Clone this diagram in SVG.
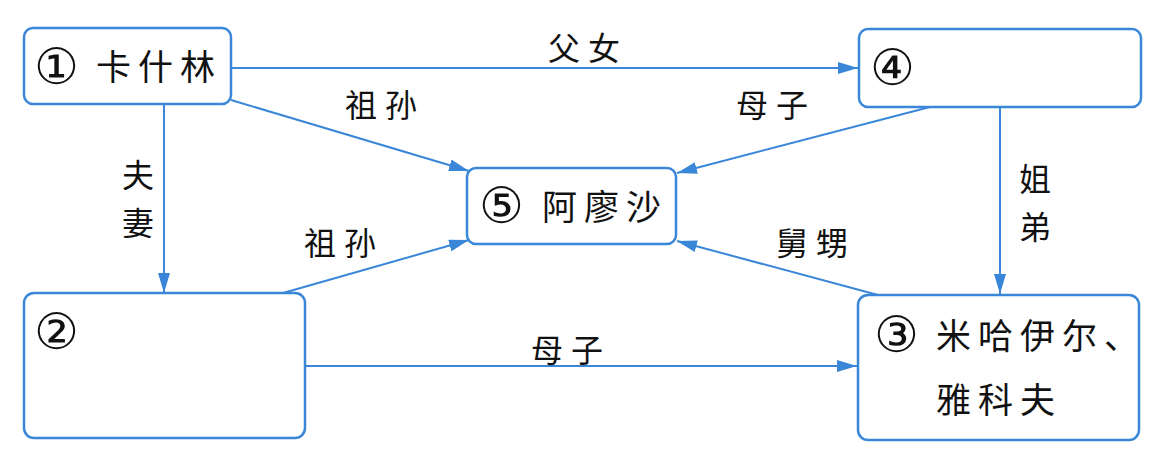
<svg xmlns="http://www.w3.org/2000/svg" width="1173" height="461" viewBox="0 0 1173 461">
<style>
.box{fill:#fff;stroke:#3a86d8;stroke-width:2.5}
.ln{stroke:#3a86d8;stroke-width:2;fill:none}
.t{font-family:"Noto Sans CJK SC",sans-serif;font-size:35px;fill:#111}
.n{font-family:"DejaVu Serif","DejaVu Sans","Noto Sans CJK SC",serif;font-size:50px;fill:#111}
.l{font-family:"Noto Sans CJK SC",sans-serif;font-size:32px;fill:#111;letter-spacing:8px}
</style>
<defs>
<marker id="b" viewBox="0 0 20 12" refX="20" refY="6" markerWidth="20" markerHeight="12" markerUnits="userSpaceOnUse" orient="auto">
<path d="M0,0 L20,6 L0,12 Z" fill="#3a86d8"/>
</marker>
</defs>
<g id="connectors">
<line class="ln" x1="231" y1="68" x2="858" y2="68" marker-end="url(#b)"/>
<line class="ln" x1="231" y1="100" x2="469" y2="171" marker-end="url(#b)"/>
<line class="ln" x1="164" y1="104" x2="164" y2="293" marker-end="url(#b)"/>
<line class="ln" x1="930" y1="107" x2="677" y2="173" marker-end="url(#b)"/>
<line class="ln" x1="1000" y1="107" x2="1000" y2="294" marker-end="url(#b)"/>
<line class="ln" x1="283" y1="293" x2="469" y2="240" marker-end="url(#b)"/>
<line class="ln" x1="878" y1="295" x2="677" y2="241" marker-end="url(#b)"/>
<line class="ln" x1="305" y1="366" x2="857" y2="366" marker-end="url(#b)"/>
<text class="l" x="548" y="60">父女</text>
<text class="l" x="345" y="117">祖孙</text>
<text class="l" x="736" y="117">母子</text>
<text class="l" x="122" y="187">夫</text>
<text class="l" x="122" y="235">妻</text>
<text class="l" x="304" y="255">祖孙</text>
<text class="l" x="776" y="255">舅甥</text>
<text class="l" x="1019" y="191">姐</text>
<text class="l" x="1019" y="239">弟</text>
<text class="l" x="531" y="362">母子</text>
</g>
<g id="node1">
<rect class="box" x="24" y="28" width="207" height="76" rx="9"/>
<text class="n" x="34" y="84">①</text>
<text class="t" x="96" y="80" letter-spacing="7">卡什林</text>
</g>
<g id="node4">
<rect class="box" x="859" y="29" width="282" height="78" rx="9"/>
<text class="n" x="870" y="85">④</text>
</g>
<g id="node5">
<rect class="box" x="467" y="168" width="209" height="76" rx="9"/>
<text class="n" x="479" y="223">⑤</text>
<text class="t" x="542" y="220" letter-spacing="7">阿廖沙</text>
</g>
<g id="node2">
<rect class="box" x="24" y="293" width="281" height="145" rx="10"/>
<text class="n" x="34" y="349">②</text>
</g>
<g id="node3">
<rect class="box" x="858" y="295" width="281" height="145" rx="10"/>
<text class="n" x="874" y="352">③</text>
<text class="t" x="936" y="349" letter-spacing="7">米哈伊尔、</text>
<text class="t" x="936" y="413" letter-spacing="7">雅科夫</text>
</g>
</svg>
